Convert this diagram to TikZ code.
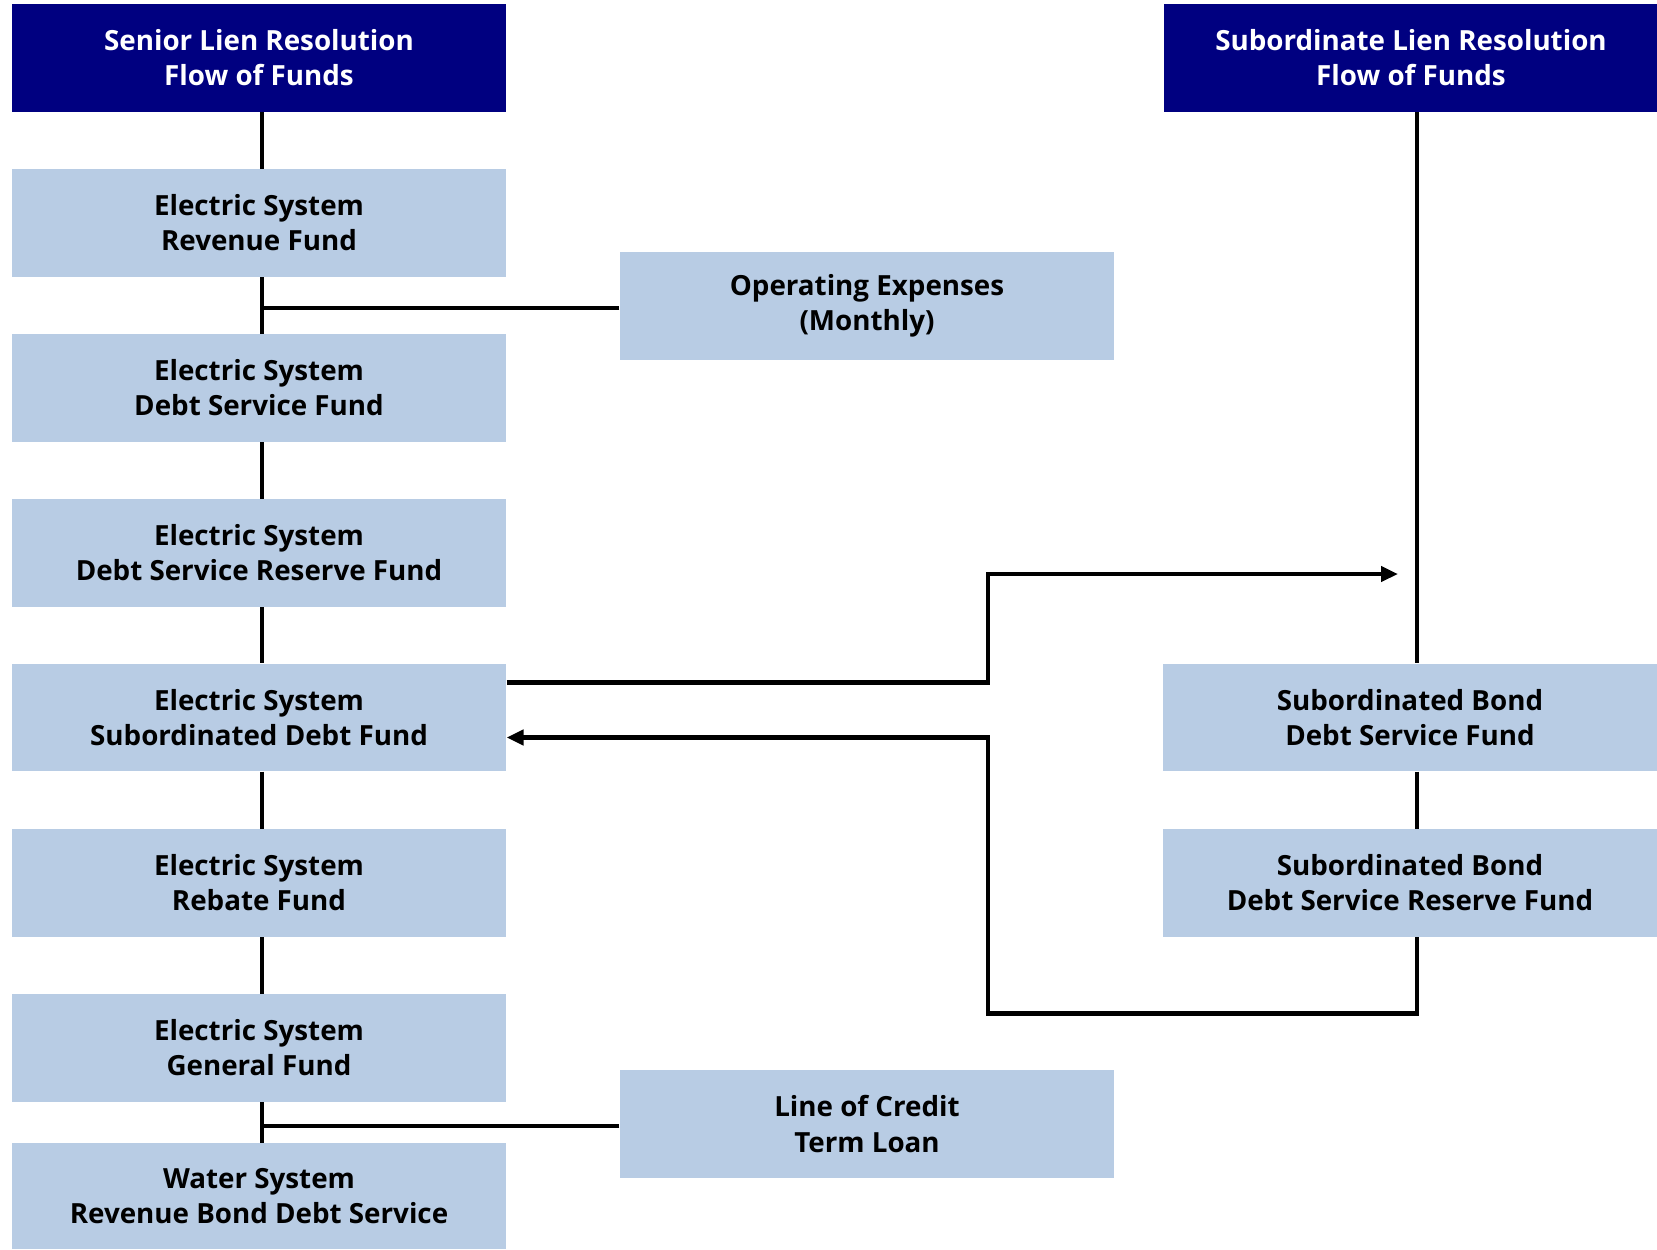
\documentclass[tikz,border=0pt]{standalone}
\usepackage{fontspec}
\setmainfont{Open Sans}
\usetikzlibrary{arrows.meta,calc}
\definecolor{hdrnavy}{RGB}{0,0,128}
\definecolor{fundblue}{RGB}{184,204,228}
\tikzset{
  fundbox/.style={fill=fundblue, minimum width=9.89cm, minimum height=2.15cm, inner sep=0pt, align=center, font=\fontsize{15.8}{20}\selectfont\bfseries},
  headbox/.style={fundbox, fill=hdrnavy, text=white},
  flow/.style={line width=2.4pt},
  flowarr/.style={flow, -{Triangle[length=0.34cm,width=0.3cm]}}
}

\begin{document}
\begin{tikzpicture}[x=0.02cm,y=-0.02cm]
\useasboundingbox (0,0) rectangle (1657,1249);
\coordinate (lspine) at (262,0);
\coordinate (rspine) at (1417,0);
\coordinate (xjog) at (988,0);
\coordinate (tipA) at (1398,574);
\coordinate (loopB) at (988,1013.5);
\node[headbox] (senhdr) at (259,58) {Senior Lien Resolution\\Flow of Funds};
\node[headbox] (subhdr) at (1411,58) {Subordinate Lien Resolution\\Flow of Funds};
\node[fundbox] (revfund) at (259,223) {Electric System\\Revenue Fund};
\node[fundbox] (dsfund) at (259,388) {Electric System\\Debt Service Fund};
\node[fundbox] (dsrfund) at (259,553) {Electric System\\Debt Service Reserve Fund};
\node[fundbox] (subdebt) at (259,717.5) {Electric System\\Subordinated Debt Fund};
\node[fundbox] (rebate) at (259,883) {Electric System\\Rebate Fund};
\node[fundbox] (genfund) at (259,1048) {Electric System\\General Fund};
\node[fundbox, minimum height=2.12cm] (waterds) at (259,1196) {Water System\\Revenue Bond Debt Service};
\node[fundbox] (opex) at (867,306) {Operating Expenses\\(Monthly)};
\node[fundbox] (credit) at (867,1124) {Line of Credit\\Term Loan};
\node[fundbox] (sbdsf) at (1410,717.5) {Subordinated Bond\\Debt Service Fund};
\node[fundbox] (sbdsrf) at (1410,883) {Subordinated Bond\\Debt Service Reserve Fund};
\foreach \a/\b in {senhdr/revfund, revfund/dsfund, dsfund/dsrfund, dsrfund/subdebt, subdebt/rebate, rebate/genfund, genfund/waterds}
  \draw[flow] (\a.south -| lspine) -- (\b.north -| lspine);
\draw[flow] ($(opex.west)+(0,2)$) -- ($(opex.west -| lspine)+(0,2)$);
\draw[flow] ($(credit.west)+(0,2)$) -- ($(credit.west -| lspine)+(0,2)$);
\draw[flow] (subhdr.south -| rspine) -- (sbdsf.north -| rspine);
\draw[flow] (sbdsf.south -| rspine) -- (sbdsrf.north -| rspine);
\draw[flowarr] ($(subdebt.east)+(0,-35)$) -| (xjog |- tipA) -- (tipA);
\draw[flowarr] (sbdsrf.south -| rspine) |- (loopB) |- ($(subdebt.east)+(0,20)$);
\end{tikzpicture}
\end{document}
